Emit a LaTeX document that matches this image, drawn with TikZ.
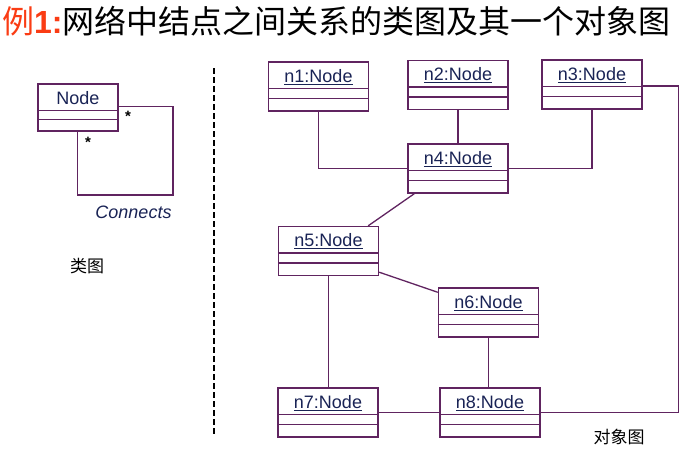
\documentclass[tikz,border=0pt]{standalone}
\usepackage{fontspec}
\setmainfont{Liberation Sans}
\newfontfamily\cjk{Noto Sans CJK SC}
\definecolor{umlline}{RGB}{96,36,96}
\definecolor{umltext}{RGB}{25,35,85}
\definecolor{titlered}{RGB}{250,60,20}
\tikzset{
  obj/.style={draw=umlline, line width=1.4pt, minimum width=100pt, minimum height=49pt, inner sep=0pt},
  objline/.style={draw=umlline, line width=1.4pt},
  conn/.style={draw=umlline, line width=1.3pt},
  lbl/.style={text=umltext, font=\fontsize{18}{20}\selectfont, inner sep=0pt},
  star/.style={font=\fontsize{15}{15}\selectfont\bfseries, inner sep=0pt},
  cnote/.style={font=\cjk\fontsize{17}{17}\selectfont, inner sep=0pt},
}
\newcommand\objbox[4]{%
  \node[obj] (#1) at (#2,#3) {};
  \draw[objline] ([yshift=-27pt]#1.north west) -- ([yshift=-27pt]#1.north east);
  \draw[objline] ([yshift=-37pt]#1.north west) -- ([yshift=-37pt]#1.north east);
  \node[lbl, anchor=base] at ([yshift=-21pt]#1.north) {\underline{#4}};
}
\begin{document}
\begin{tikzpicture}[x=1pt,y=-1pt]
\useasboundingbox (0,0) rectangle (689,451);
% title
\node[anchor=base west, inner sep=0pt] (title) at (2,33)
  {\fontsize{32}{34}\selectfont\textcolor{titlered}{\cjk 例}\textcolor{titlered}{\bfseries 1:}\cjk 网络中结点之间关系的类图及其一个对象图};
% class diagram
\node[obj, minimum width=80pt, minimum height=47pt] (cls) at (78,107.5) {};
\draw[objline] ([yshift=-27pt]cls.north west) -- ([yshift=-27pt]cls.north east);
\draw[objline] ([yshift=-36pt]cls.north west) -- ([yshift=-36pt]cls.north east);
\node[lbl, anchor=base] (clsname) at ([yshift=-21pt]cls.north) {Node};
\coordinate (loop) at (173,195);
\draw[conn] ([yshift=-23pt]cls.north east) -| (loop) -| ([xshift=40pt]cls.south west);
\node[star] (m1) at (128,116) {*};
\node[star] (m2) at (88,142) {*};
\node[lbl, anchor=base, font=\fontsize{18}{20}\selectfont\itshape] (assoc) at (133.5,218) {Connects};
\node[cnote] (cd) at (87,266) {类图};
% separator
\coordinate (sepTop) at (214,68);
\coordinate (sepBot) at (214,436);
\draw[line width=1.2pt, dash pattern=on 6pt off 3pt] (sepTop) -- (sepBot);
% object diagram
\objbox{n1}{318.5}{86.5}{n1:Node}
\objbox{n2}{458}{85}{n2:Node}
\objbox{n3}{592}{84.5}{n3:Node}
\objbox{n4}{458}{168.5}{n4:Node}
\objbox{n5}{328.5}{251}{n5:Node}
\objbox{n6}{488.5}{312.5}{n6:Node}
\objbox{n7}{328}{412.5}{n7:Node}
\objbox{n8}{490}{412.5}{n8:Node}
\draw[conn] (n1.south) |- (n4.west);
\draw[conn] (n2.south) -- (n4.north);
\draw[conn] (n3.south) |- (n4.east);
\draw[conn] ([yshift=-1.5pt]n3.east) -- ++(36,0) |- (n8.east);
\draw[conn] ([xshift=7pt]n4.south west) -- ([xshift=-11pt]n5.north east);
\draw[conn] ([yshift=4pt]n5.south east) -- ([yshift=-5pt]n6.north west);
\draw[conn] (n5.south) -- (n5.south |- n7.north);
\draw[conn] (n6.south) -- (n6.south |- n8.north);
\draw[conn] (n7.east) -- (n8.west);
\node[cnote] (od) at (619,437) {对象图};
\end{tikzpicture}
\end{document}
